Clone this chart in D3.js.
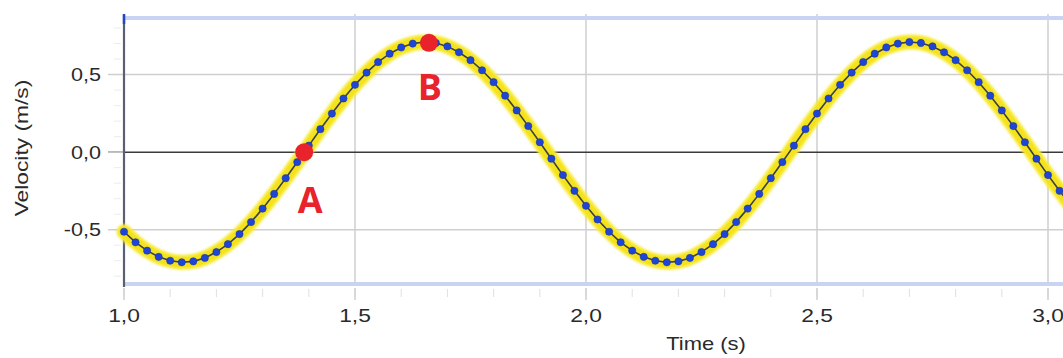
<!DOCTYPE html>
<html><head><meta charset="utf-8">
<script src="https://cdn.jsdelivr.net/npm/d3@7"></script>
<style>
html,body{margin:0;padding:0;background:#fff;overflow:hidden}
svg{display:block;font-family:"Liberation Sans",Arial,Helvetica,sans-serif}
</style></head>
<body><svg id="c" width="1063" height="358"></svg>
<script>
// time samples (s), step 0.025
const times = d3.range(0, 83).map(i => +(1 + i * 0.025).toFixed(3));
// velocity readings (m/s)
const velocity = [
 -0.513,-0.581,-0.635,-0.675,-0.700,-0.710,-0.704,-0.682,-0.644,-0.593,-0.528,-0.451,-0.364,-0.269,-0.168,-0.064,0.042,0.148,0.249,0.346,0.434,
 0.513,0.581,0.635,0.675,0.700,0.710,0.704,0.682,0.644,0.593,0.528,0.451,0.364,0.269,0.168,0.064,-0.042,-0.148,-0.249,-0.346,-0.434,
 -0.513,-0.581,-0.635,-0.675,-0.700,-0.710,-0.704,-0.682,-0.644,-0.593,-0.528,-0.451,-0.364,-0.269,-0.168,-0.064,0.042,0.148,0.249,0.346,0.434,
 0.513,0.581,0.635,0.675,0.700,0.710,0.704,0.682,0.644,0.593,0.528,0.451,0.364,0.269,0.168,0.064,-0.042,-0.148,-0.249,-0.346
];
const xTicks = [1.0, 1.5, 2.0, 2.5, 3.0];
const xTickLabels = ["1,0", "1,5", "2,0", "2,5", "3,0"];
const yTicks = [-0.5, 0.0, 0.5];
const yTickLabels = ["-0,5", "0,0", "0,5"];
const markerNames = ["A", "B"];
const markerTimes = [1.39, 1.66];
const markerValues = [0.0, 0.705];

const svg = d3.select("#c");
const x = d3.scaleLinear().domain([1.0, 3.0]).range([124, 1048]);
const y = d3.scaleLinear().domain([-0.85, 0.865]).range([284, 18]);
const data = times.map((t, i) => ({t, v: velocity[i]})).filter((d, i) => i < velocity.length);

const defs = svg.append("defs");
defs.append("filter").attr("id", "blur").append("feGaussianBlur").attr("stdDeviation", 1.2);

// minor x ticks
const minorX = d3.range(10, 31).map(i => i / 10);
svg.append("g").selectAll("line").data(minorX).join("line")
  .attr("x1", d => x(d)).attr("x2", d => x(d))
  .attr("y1", 289).attr("y2", 297)
  .attr("stroke", "#e0e0e0").attr("stroke-width", 1);
// minor y ticks
const minorY = d3.range(-8, 9).map(i => i / 10);
svg.append("g").selectAll("line").data(minorY).join("line")
  .attr("x1", 114).attr("x2", 121)
  .attr("y1", d => y(d)).attr("y2", d => y(d))
  .attr("stroke", "#ececec").attr("stroke-width", 1);

// x gridlines
svg.append("g").selectAll("line").data(xTicks.slice(1)).join("line")
  .attr("x1", d => x(d)).attr("x2", d => x(d))
  .attr("y1", 14).attr("y2", 284)
  .attr("stroke", "#cfcfcf").attr("stroke-width", 1.5);
// major x tick marks
svg.append("g").selectAll("line").data(xTicks).join("line")
  .attr("x1", d => x(d)).attr("x2", d => x(d))
  .attr("y1", 288).attr("y2", 300)
  .attr("stroke", "#cfcfcf").attr("stroke-width", 1.5);
// y gridlines
svg.append("g").selectAll("line").data(yTicks).join("line")
  .attr("x1", 108).attr("x2", 1063)
  .attr("y1", d => y(d)).attr("y2", d => y(d))
  .attr("stroke", d => d === 0 ? "#3a3a3a" : "#cfcfcf")
  .attr("stroke-width", 1.5);
svg.append("line").attr("x1", 108).attr("x2", 123).attr("y1", y(0)).attr("y2", y(0))
  .attr("stroke", "#cfcfcf").attr("stroke-width", 1.5);

// frame: top/bottom light blue borders
svg.append("line").attr("x1", 124).attr("x2", 1063).attr("y1", 18).attr("y2", 18)
  .attr("stroke", "#c9d3f3").attr("stroke-width", 4);
svg.append("line").attr("x1", 124).attr("x2", 1063).attr("y1", 284).attr("y2", 284)
  .attr("stroke", "#c9d3f3").attr("stroke-width", 4);
// left axis
svg.append("line").attr("x1", 124).attr("x2", 124).attr("y1", 15).attr("y2", 287)
  .attr("stroke", "#5a5f72").attr("stroke-width", 2.2);
svg.append("line").attr("x1", 124).attr("x2", 124).attr("y1", 14).attr("y2", 24)
  .attr("stroke", "#2346c8").attr("stroke-width", 2.5);

// yellow highlight
const line = d3.line().x(d => x(d.t)).y(d => y(d.v)).curve(d3.curveCatmullRom);
svg.append("path").datum(data).attr("d", line)
  .attr("fill", "none").attr("stroke", "#f7e935").attr("stroke-width", 15)
  .attr("stroke-linecap", "round").attr("filter", "url(#blur)");
svg.append("path").datum(data).attr("d", line)
  .attr("fill", "none").attr("stroke", "#f3e21c").attr("stroke-width", 10)
  .attr("stroke-linecap", "round");
// connecting line
svg.append("path").datum(data).attr("d", d3.line().x(d => x(d.t)).y(d => y(d.v)))
  .attr("fill", "none").attr("stroke", "#3b3f4a").attr("stroke-width", 1.6);
// dots
svg.append("g").selectAll("circle").data(data).join("circle")
  .attr("cx", d => x(d.t)).attr("cy", d => y(d.v)).attr("r", 3.6)
  .attr("fill", "#1f45d6").attr("stroke", "#1836a8").attr("stroke-width", 0.6);

// markers
const markers = markerNames.map((n, i) => ({n, t: markerTimes[i], v: markerValues[i]}));
svg.append("g").selectAll("circle").data(markers).join("circle")
  .attr("cx", d => x(d.t)).attr("cy", d => y(d.v)).attr("r", 9)
  .attr("fill", "#e8232b");
svg.append("g").selectAll("text").data(markers).join("text")
  .attr("x", d => x(d.t) + (d.n === "A" ? 6 : 1)).attr("y", d => y(d.v) + (d.n === "A" ? 61 : 57))
  .attr("text-anchor", "middle")
  .attr("font-family", "'Open Sans','DejaVu Sans',sans-serif")
  .attr("font-weight", "bold").attr("font-size", 36)
  .attr("fill", "#e8232b").text(d => d.n);

// tick labels
svg.append("g").selectAll("text").data(xTicks).join("text")
  .attr("transform", d => `translate(${x(d)},322) scale(1.2,1)`)
  .attr("text-anchor", "middle").attr("font-size", 19).attr("fill", "#2a2a2a")
  .text((d, i) => xTickLabels[i]);
svg.append("g").selectAll("text").data(yTicks).join("text")
  .attr("transform", d => `translate(101,${y(d) + 6.5}) scale(1.2,1)`)
  .attr("text-anchor", "end").attr("font-size", 18).attr("fill", "#2a2a2a")
  .text((d, i) => yTickLabels[i]);

// axis titles
svg.append("text").attr("transform", "translate(706,350) scale(1.22,1)").attr("text-anchor", "middle")
  .attr("font-size", 18).attr("fill", "#2a2a2a").text("Time (s)");
svg.append("text").attr("transform", "translate(28,148) rotate(-90) scale(1.2,1)")
  .attr("text-anchor", "middle").attr("font-size", 19).attr("fill", "#2a2a2a")
  .text("Velocity (m/s)");
</script></body></html>
